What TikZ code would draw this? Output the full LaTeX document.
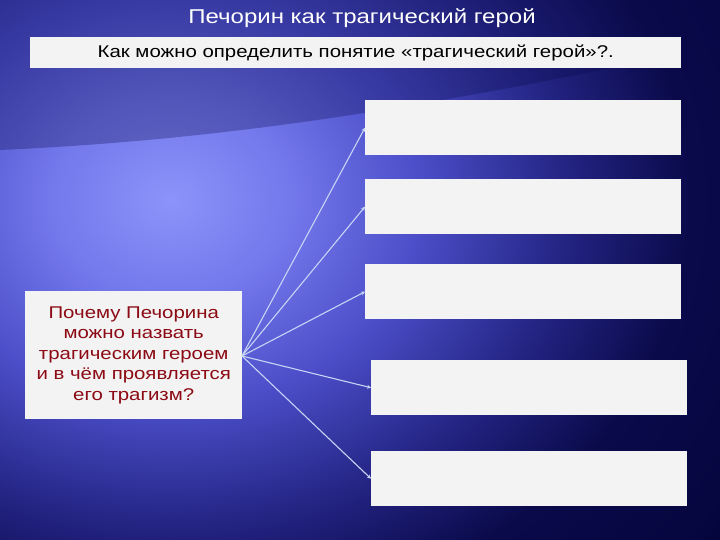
\documentclass[tikz,border=0pt]{standalone}
\usepackage{fontspec}
\setmainfont{Liberation Sans}
\newfontfamily\wideface[FakeStretch=1.2]{Liberation Sans}
\usetikzlibrary{positioning,arrows.meta}
\definecolor{boxgray}{RGB}{243,243,243}
\definecolor{askred}{RGB}{140,10,20}
\definecolor{linkblue}{RGB}{200,212,245}
\definecolor{glowA}{RGB}{140,148,250}
\definecolor{glowB}{RGB}{115,120,235}
\definecolor{glowC}{RGB}{75,78,200}
\definecolor{glowD}{RGB}{35,35,130}
\definecolor{glowE}{RGB}{10,10,75}
\definecolor{glowF}{RGB}{5,5,62}
\pgfdeclareradialshading{bgglow}{\pgfpoint{0bp}{0bp}}{%
  color(0bp)=(glowA); color(3bp)=(glowB); color(6.25bp)=(glowC);
  color(10bp)=(glowD); color(13bp)=(glowE); color(17bp)=(glowF); color(50bp)=(glowF)}
\tikzset{
  answer box/.style={
    fill=boxgray,
    anchor=north west,
    minimum width=316pt,
    minimum height=55pt,
    inner sep=0pt,
  },
  link/.style={
    draw=linkblue,
    line width=1.1pt,
    -{Stealth[length=4pt,width=4pt]},
  }
}

\begin{document}
\begin{tikzpicture}[x=1pt,y=-1pt]
        \useasboundingbox (0,0) rectangle (720,540);
        \begin{scope}
          \clip (0,0) rectangle (720,540);
          \shade[shading=bgglow] (170,200) ellipse (1000 and 820);
          % darker swoosh across the top
          \fill[glowE, opacity=0.3] (0,150) .. controls (220,140) and (420,110) .. (720,45)
            -- (720,0) -- (0,0) -- cycle;
        \end{scope}

        \node [text=white, font=\wideface\fontsize{20}{24}\selectfont] (title) at (362,18) {Печорин как трагический герой};
        \node [fill=boxgray, anchor=north west, minimum width=651pt, minimum height=31pt, inner sep=0pt,
               font=\wideface\fontsize{17}{20}\selectfont] (quest) at (30,37) {Как можно определить понятие «трагический герой»?.};

        \node [fill=boxgray, anchor=north west, minimum width=217pt, minimum height=128pt, inner sep=0pt,
               text=askred, align=center, font=\wideface\fontsize{17}{20.5}\selectfont] (why) at (25,291)
              {Почему Печорина\\можно назвать\\трагическим героем\\и в чём проявляется\\его трагизм?};

        \node [answer box] (a1) at (365,100) {};
        \node [answer box] (a2) at (365,179) {};
        \node [answer box] (a3) at (365,264) {};
        \node [answer box] (a4) at (371,360) {};
        \node [answer box] (a5) at (371,451) {};

        \coordinate (hub) at (242,356);
        \foreach \i in {1,...,5}
          \draw [link] (hub) -- (a\i.west);
      \end{tikzpicture}
\end{document}
